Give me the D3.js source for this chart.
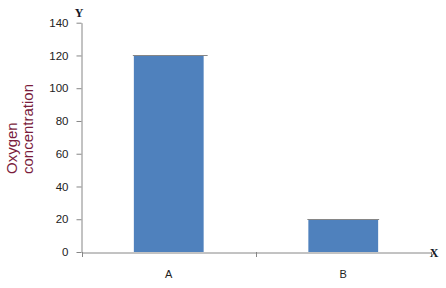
<!DOCTYPE html>
<html><head><meta charset="utf-8">
<script src="https://cdn.jsdelivr.net/npm/d3@7"></script>
<style>body{margin:0;background:#fff}svg{display:block}</style>
</head><body>
<script>
const categories = ["A", "B"];
const values = [120, 20];
const yTicks = [0, 20, 40, 60, 80, 100, 120, 140];

const W = 446, H = 288;
const svg = d3.select("body").append("svg").attr("width", W).attr("height", H);

const x = d3.scaleBand().domain(categories).range([81.5, 430.5]).padding(0);
const y = d3.scaleLinear().domain([0, 140]).range([252, 22.7]);
const axisColor = "#868686";

// bars
const bw = x.bandwidth() * 0.4;
svg.selectAll("rect.bar").data(values).enter().append("rect")
  .attr("x", (d, i) => x(categories[i]) + (x.bandwidth() - bw) / 2)
  .attr("y", d => y(d))
  .attr("width", bw)
  .attr("height", d => y(0) - y(d))
  .attr("fill", "#4f81bd");
svg.selectAll("line.top").data(values).enter().append("line")
  .attr("x1", (d, i) => x(categories[i]) + (x.bandwidth() - bw) / 2 - 1)
  .attr("x2", (d, i) => x(categories[i]) + (x.bandwidth() + bw) / 2 + (i === 0 ? 4 : 1))
  .attr("y1", d => Math.round(y(d)) + 0.5).attr("y2", d => Math.round(y(d)) + 0.5)
  .attr("stroke", axisColor).attr("stroke-width", 1);

// y axis
const yAxis = svg.append("g").attr("transform", "translate(81.5,0)")
  .call(d3.axisLeft(y).tickValues(yTicks).tickSize(5).tickPadding(8).tickSizeOuter(0));
yAxis.select(".domain").attr("stroke", axisColor);
yAxis.selectAll(".tick line").attr("stroke", axisColor);
yAxis.selectAll(".tick text").attr("font-family", "Arial, 'Liberation Sans', sans-serif")
  .attr("font-size", 11.5).attr("fill", "#222");

// x axis
const xAxis = svg.append("g").attr("transform", "translate(0,252.5)")
  .call(d3.axisBottom(x).tickSize(0).tickPadding(18));
xAxis.select(".domain").attr("stroke", axisColor);
xAxis.selectAll(".tick text").attr("font-family", "Arial, 'Liberation Sans', sans-serif")
  .attr("font-size", 11).attr("fill", "#222");
const bounds = [x.range()[0], ...categories.slice(1).map(c => x(c)), x.range()[1]];
svg.selectAll("line.xt").data(bounds).enter().append("line")
  .attr("x1", d => Math.round(d) + 0.5).attr("x2", d => Math.round(d) + 0.5)
  .attr("y1", 252).attr("y2", 257).attr("stroke", axisColor);

// axis letters
svg.append("text").attr("x", 79).attr("y", 17).attr("text-anchor", "middle")
  .attr("font-family", "'Liberation Serif', 'DejaVu Serif', serif").attr("font-weight", "bold")
  .attr("font-size", 12).attr("fill", "#111827").text("Y");
svg.append("text").attr("x", 434).attr("y", 257).attr("text-anchor", "middle")
  .attr("font-family", "'Liberation Serif', 'DejaVu Serif', serif").attr("font-weight", "bold")
  .attr("font-size", 12).attr("fill", "#111827").text("X");

// y title
const title = svg.append("text")
  .attr("transform", "translate(0,174) rotate(-90)")
  .attr("font-family", "Arial, 'Liberation Sans', sans-serif").attr("font-size", 15)
  .attr("fill", "#7a1c3c");
title.append("tspan").attr("x", 0).attr("y", 17).text("Oxygen");
title.append("tspan").attr("x", 0).attr("y", 33).text("concentration");
</script>
</body></html>
